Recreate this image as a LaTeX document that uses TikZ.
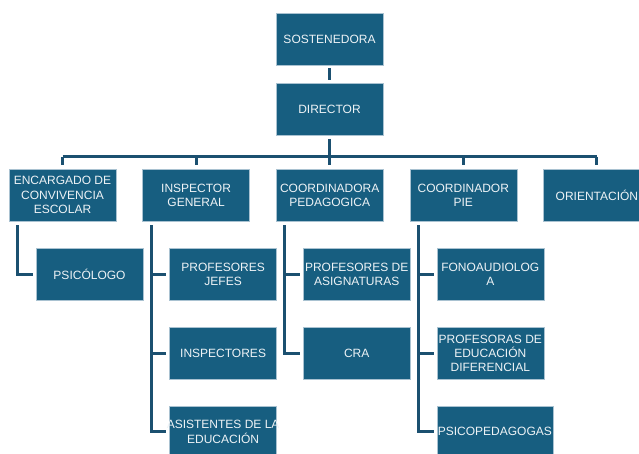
\documentclass[tikz,border=0pt]{standalone}
\usepackage{fontspec}
\setmainfont{Liberation Sans}
\usetikzlibrary{positioning,calc}
\definecolor{cajaazul}{HTML}{175E80}
\definecolor{lineaazul}{HTML}{1B5070}
\definecolor{bordeazul}{HTML}{A9C2D1}
\definecolor{textoclaro}{HTML}{EEF3F6}

\begin{document}
\begin{tikzpicture}[x=1pt,y=1pt,
  caja/.style={draw=bordeazul, line width=0.6pt, fill=cajaazul, text=textoclaro,
    minimum width=107pt, minimum height=52pt, inner sep=1pt, align=center,
    font=\fontsize{12}{14.2}\selectfont},
  linea/.style={draw=lineaazul, line width=3pt},
  node distance=26pt and 26pt]
  \useasboundingbox (0,0) rectangle (639,-453);

  % top
  \node[caja] (sost) at (329.5,-39) {SOSTENEDORA};
  \node[caja] (dir) [below=18pt of sost] {DIRECTOR};

  % second level
  \node[caja] (enc) at (62.5,-195) {ENCARGADO DE\\CONVIVENCIA\\ESCOLAR};
  \node[caja] (insp) [right=of enc] {INSPECTOR\\GENERAL};
  \node[caja] (coorda) [right=of insp] {COORDINADORA\\PEDAGOGICA};
  \node[caja] (coordp) [right=of coorda] {COORDINADOR\\PIE};
  \node[caja] (orient) [right=of coordp] {ORIENTACIÓN};

  % third level
  \node[caja] (psic) [below right=27pt and 27pt of enc.south west] {PSICÓLOGO};

  \node[caja] (pjefes) [below right=27pt and 27pt of insp.south west] {PROFESORES\\JEFES};
  \node[caja] (inspec) [below=of pjefes] {INSPECTORES};
  \node[caja] (asist) [below=of inspec] {\makebox[104pt]{ASISTENTES DE LA}\\EDUCACIÓN};

  \node[caja] (pasig) [below right=27pt and 27pt of coorda.south west] {PROFESORES DE\\ASIGNATURAS};
  \node[caja] (cra) [below=of pasig] {CRA};

  \node[caja] (fono) [below right=27pt and 27pt of coordp.south west] {FONOAUDIOLOG\\A};
  \node[caja] (pdif) [below=of fono] {PROFESORAS DE\\EDUCACIÓN\\DIFERENCIAL};
  \node[caja, minimum width=116pt] (psicop) [below right=26pt and 0pt of pdif.south west] {PSICOPEDAGOGAS};

  % connectors
  \draw[linea, shorten <=3pt, shorten >=3pt] (sost) -- (dir);
  \draw[linea, shorten <=3pt] (dir.south) -- ++(0,-21) coordinate (bus);
  \draw[linea] (bus -| enc.north) -- (bus -| orient.north);
  \draw[linea, shorten >=4pt] (bus -| enc.north) -- (enc.north);
  \draw[linea, shorten >=4pt] (bus -| insp.north) -- (insp.north);
  \draw[linea, shorten >=4pt] (bus -| coorda.north) -- (coorda.north);
  \draw[linea, shorten >=4pt] (bus -| coordp.north) -- (coordp.north);
  \draw[linea, shorten >=4pt] (bus -| orient.north) -- (orient.north);

  \draw[linea, shorten <=4pt, shorten >=3pt] ($(enc.south west)+(9,0)$) |- (psic.west);
  \draw[linea, shorten <=4pt, shorten >=3pt] ($(insp.south west)+(9,0)$) |- (pjefes.west);
  \draw[linea, shorten <=4pt, shorten >=3pt] ($(insp.south west)+(9,0)$) |- (inspec.west);
  \draw[linea, shorten <=4pt, shorten >=3pt] ($(insp.south west)+(9,0)$) |- (asist.west);
  \draw[linea, shorten <=4pt, shorten >=3pt] ($(coorda.south west)+(9,0)$) |- (pasig.west);
  \draw[linea, shorten <=4pt, shorten >=3pt] ($(coorda.south west)+(9,0)$) |- (cra.west);
  \draw[linea, shorten <=4pt, shorten >=3pt] ($(coordp.south west)+(9,0)$) |- (fono.west);
  \draw[linea, shorten <=4pt, shorten >=3pt] ($(coordp.south west)+(9,0)$) |- (pdif.west);
  \draw[linea, shorten <=4pt, shorten >=3pt] ($(coordp.south west)+(9,0)$) |- (psicop.west);
\end{tikzpicture}
\end{document}
